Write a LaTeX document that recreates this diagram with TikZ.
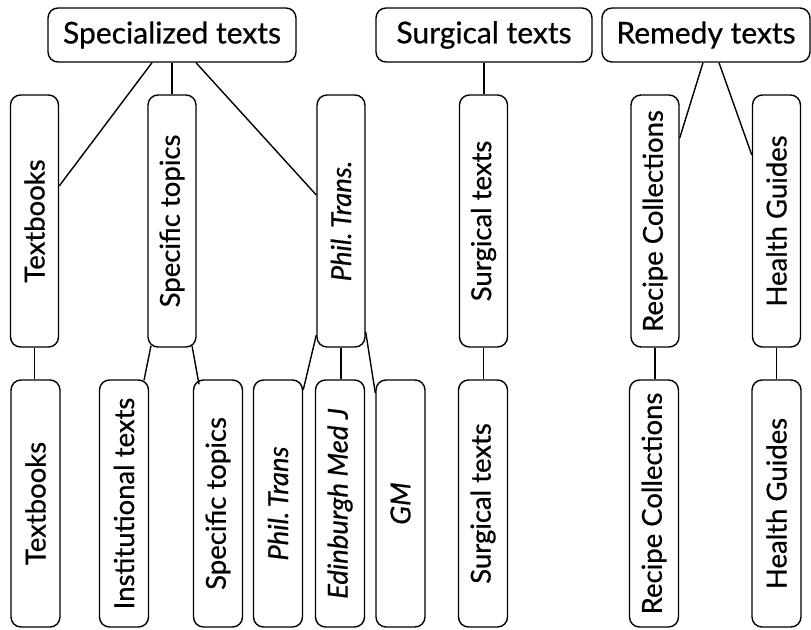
\documentclass[tikz,border=0pt]{standalone}
\usepackage{fontspec}
\setmainfont{Lato}[FakeBold=0.6]
\usetikzlibrary{calc}
\tikzset{
  box/.style={draw=black, line width=1.4pt, rounded corners=10pt, fill=white, inner sep=0pt,
    font=\fontsize{27.5}{30}\selectfont},
  hbox/.style={box, minimum height=54pt, font=\fontsize{30}{34}\selectfont},
  midbox/.style={box, minimum width=48pt, minimum height=252pt},
  botbox/.style={box, minimum width=49pt, minimum height=247pt},
  link/.style={draw=black, line width=1.4pt}
}
\begin{document}
\begin{tikzpicture}[x=1pt,y=-1pt]
\useasboundingbox (0,0) rectangle (811,629);
% top
\node[hbox, minimum width=248pt] (spec) at (172,35) {Specialized texts};
\node[hbox, minimum width=216pt] (surg) at (484,35) {Surgical texts};
\node[hbox, minimum width=208pt] (rem) at (706,35) {Remedy texts};
% middle
\node[midbox] (tbm) at (34.5,221) {\rotatebox{90}{Textbooks}};
\node[midbox] (stm) at (172,221) {\rotatebox{90}{Specific topics}};
\node[midbox] (ptm) at (341,221) {\rotatebox{90}{\itshape Phil.\,Trans.}};
\node[midbox] (sgm) at (483.5,221) {\rotatebox{90}{Surgical texts}};
\node[midbox] (rcm) at (655,221) {\rotatebox{90}{Recipe Collections}};
\node[midbox] (hgm) at (776.5,221) {\rotatebox{90}{Health Guides}};
% bottom
\node[botbox] (tbb) at (35.5,503.5) {\rotatebox{90}{Textbooks}};
\node[botbox] (itb) at (124,503.5) {\rotatebox{90}{Institutional texts}};
\node[botbox] (stb) at (218,503.5) {\rotatebox{90}{Specific topics}};
\node[botbox] (ptb) at (278,503.5) {\rotatebox{90}{\itshape Phil.\,Trans}};
\node[botbox] (edb) at (340,503.5) {\rotatebox{90}{\itshape Edinburgh Med J}};
\node[botbox] (gmb) at (400.5,503.5) {\rotatebox{90}{\itshape GM}};
\node[botbox] (sgb) at (483,503.5) {\rotatebox{90}{Surgical texts}};
\node[botbox] (rcb) at (654,503.5) {\rotatebox{90}{Recipe Collections}};
\node[botbox] (hgb) at (776.5,503.5) {\rotatebox{90}{Health Guides}};
% connectors top-middle
\draw[link] ($(spec.south)+(-20,0)$) -- ($(tbm.east)+(0,-35)$);
\draw[link] (spec.south) -- (stm.north);
\draw[link] ($(spec.south)+(24,0)$) -- ($(ptm.west)+(0,-26)$);
\draw[link] (surg.south) -- (surg.south |- sgm.north);
\draw[link] ($(rem.south)+(-3,0)$) -- ($(rcm.east)+(0,-83)$);
\draw[link] ($(rem.south)+(13,0)$) -- ($(hgm.west)+(0,-66)$);
% connectors middle-bottom
\draw[link] (tbm.south) -- (tbm.south |- tbb.north);
\draw[link] ($(stm.south)+(-21,-2)$) -- ($(itb.north)+(20,1)$);
\draw[link] ($(stm.south)+(20,-2)$) -- ($(stb.north)+(-19,5)$);
\draw[link] ($(ptm.west)+(0,114)$) -- ($(ptb.east)+(0,-113.5)$);
\draw[link] (ptm.south) -- (ptm.south |- edb.north);
\draw[link] ($(ptm.east)+(0,111)$) -- ($(gmb.west)+(0,-110.5)$);
\draw[link] (sgm.south) -- (sgm.south |- sgb.north);
\draw[link] (rcm.south) -- (rcm.south |- rcb.north);
\draw[link] (hgm.south) -- (hgm.south |- hgb.north);
\end{tikzpicture}
\end{document}
